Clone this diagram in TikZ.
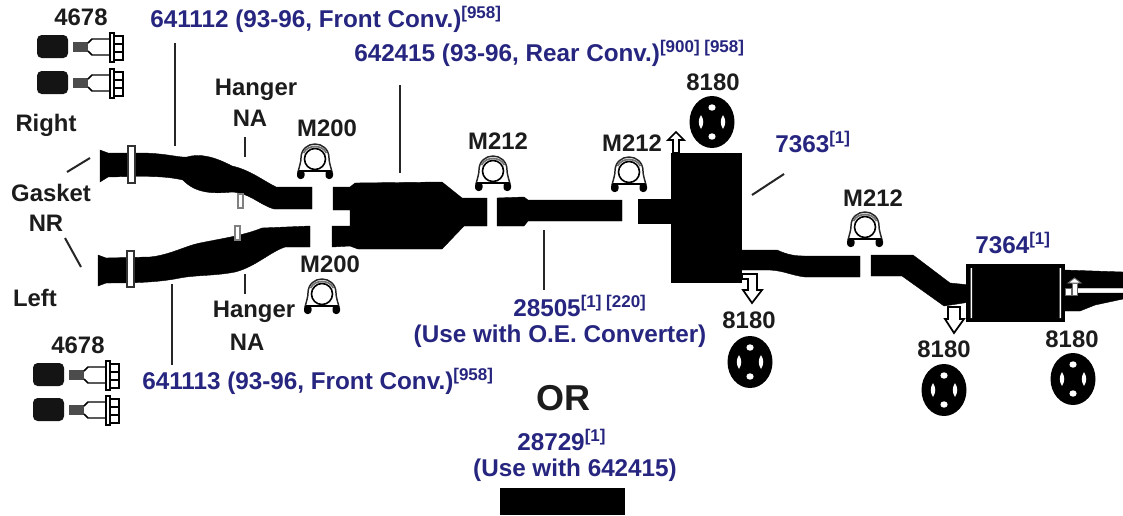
\documentclass[tikz,border=0pt]{standalone}
\usepackage{fontspec}
\setmainfont{Liberation Sans}
\definecolor{partblue}{HTML}{26257F}
\definecolor{inkblack}{HTML}{1C1C1C}
\tikzset{
  x=0.75pt,y=-0.75pt,
  lab/.style={font=\fontsize{17.9}{20}\selectfont\bfseries,text=inkblack,inner sep=0pt},
  part/.style={font=\fontsize{18.2}{20}\selectfont\bfseries,text=partblue,inner sep=0pt},
  leader/.style={draw=black!85,line width=1.5pt},
  solid part/.style={fill=black,draw=black,line width=0.3pt},
  whitearrow/.style={fill=white,draw=black,line width=1.3pt,line join=miter},
  strap/.style={fill=white,draw=black!80,line width=0.9pt},
  clamp/.pic={
    \draw[black!85,line width=1.1pt,fill=white] (-17,28) .. controls (-15.5,22) and (-14,18) .. (-14,14) .. controls (-14,5) and (-7,0) .. (0,0) .. controls (7,0) and (14,5) .. (14,14) .. controls (14,18) and (15.5,22) .. (17,28);
    \draw[black!55,line width=1.3pt] (-11.5,9) .. controls (-9,4) and (-4,2.5) .. (0,2.5) .. controls (4,2.5) and (9,4) .. (11.5,9);
    \draw[black,line width=1.2pt] (0,15) circle (10.5);
    \draw[black,line width=2pt] (-16,27) -- (16,27);
    \fill[black,rounded corners=2.5pt] (-18,26) rectangle (-10.5,35);
    \fill[black,rounded corners=2.5pt] (10.5,26) rectangle (18,35);
  },
  isolator/.pic={
    \fill[black] (0,0) ellipse (22.5 and 26);
    \fill[white] (0,-14.5) ellipse (3.6 and 3.2) (0,14.5) ellipse (3.6 and 3.2);
    \fill[white] (-11,-7) .. controls (-14,-2) and (-14,2) .. (-11,7) .. controls (-8,2) and (-8,-2) .. cycle;
    \fill[white] (11,-7) .. controls (14,-2) and (14,2) .. (11,7) .. controls (8,2) and (8,-2) .. cycle;
  },
  boltset/.pic={
    \fill[black!92,rounded corners=3.5pt] (0,0) rectangle (31,23);
    \fill[black!70] (36,7) rectangle (51,17);
    \draw[black,line width=1.1pt,fill=white] (51,8) -- (55,4) -- (73,4) -- (73,20) -- (55,20) -- (51,16);
    \draw[black,line width=1.1pt,fill=white] (73,-2) rectangle (77,27);
    \draw[black,line width=1.1pt,fill=white] (77,1) rectangle (86,25);
    \draw[black,line width=1.1pt] (77,9) -- (86,9) (77,17) -- (86,17);
  }
}
\begin{document}
\begin{tikzpicture}
\useasboundingbox (0,0) rectangle (1123,515);
\fill[white] (0,0) rectangle (1123,515);
% right front pipe
\path[solid part] (100,150) -- (108,153) -- (140,153) .. controls (165,153) and (180,158) .. (187,157)
  .. controls (200,153) and (215,157) .. (232,166) .. controls (250,170) and (262,180) .. (276,187)
  -- (312,187) -- (312,209) -- (274,209) .. controls (258,204) and (250,193) .. (232,192)
  .. controls (212,194) and (195,193) .. (183,180) .. controls (165,176) and (150,176) .. (108,177) -- (100,182) -- cycle;
\draw[strap] (128,146) rectangle (135,183);
\draw[strap,draw=black!50] (238,194) rectangle (243,208);
% left front pipe
\path[solid part] (98,255) -- (106,258) -- (150,257) .. controls (170,255) and (185,246) .. (200,243)
  .. controls (225,238) and (245,235) .. (262,228) -- (310,226) -- (310,247) -- (285,247)
  .. controls (270,252) and (255,267) .. (235,272) .. controls (215,276) and (195,275) .. (180,278)
  .. controls (160,282) and (140,283) .. (106,283) -- (98,286) -- cycle;
\draw[strap] (127,251) rectangle (134,287);
\draw[strap,draw=black!50] (235,226) rectangle (240,240);
% converter
\path[solid part] (333,187) -- (350,187) -- (355,183) -- (442,182) -- (462,198) -- (487,198) -- (487,226)
  -- (464,226) -- (442,249) -- (358,249) -- (350,246) -- (332,247) -- (332,226) -- (350,226) -- (350,210) -- (333,210) -- cycle;
% intermediate pipe
\path[solid part] (497,198) -- (524,197) -- (528,200) -- (622,200) -- (622,221) -- (528,221) -- (524,226) -- (497,226) -- cycle;
\path[solid part] (638,199) -- (672,199) -- (672,223) -- (638,223) -- cycle;
% muffler 7363 and tail
\path[solid part] (671,153) rectangle (741,282);
\path[solid part] (740,250) -- (777,250) .. controls (788,255) and (795,256) .. (805,256) -- (860,256) -- (860,277)
  -- (805,277) .. controls (790,275) and (785,271) .. (770,270) -- (740,270) -- cycle;
\path[solid part] (871,255) -- (913,255) -- (950,283) -- (970,285) -- (970,302) -- (944,306) -- (902,276) -- (871,276) -- cycle;
% muffler 7364 and tail pipes
\path[solid part] (1064,270) -- (1123,272) -- (1123,288) -- (1064,288) -- cycle;
\path[solid part] (1064,293) -- (1123,293) -- (1123,299) -- (1095,305) -- (1080,311) -- (1064,311) -- cycle;
\path[solid part] (966,264) rectangle (1064,321);
\fill[white] (970.5,268) rectangle (972,318) (1059.5,268) rectangle (1061,318);
\draw[fill=white,draw=black!60,line width=0.7pt] (1065,288) rectangle (1071,295);
\draw[fill=white,draw=black!60,line width=0.7pt] (1072,283) rectangle (1077,295);
\draw[fill=white,draw=black!60,line width=0.7pt] (1068,283) -- (1074.5,278) -- (1081,283) -- cycle;
% hanger arrows
\path[whitearrow] (673,153) -- (673,140) -- (668,140) -- (676,132) -- (684,140) -- (679,140) -- (679,153) -- cycle;
\path[whitearrow] (742,274) -- (757,274) -- (757,290) -- (762,290) -- (752,303) -- (743,290) -- (748,290) -- (748,279) -- (742,279) -- cycle;
\path[whitearrow] (948,307) -- (960,307) -- (960,319) -- (964,319) -- (954,333) -- (945,319) -- (948,319) -- cycle;
% clamps
\pic at (315,144) {clamp};
\pic at (322,279) {clamp};
\pic at (493,156) {clamp};
\pic at (629,157) {clamp};
\pic at (865,212) {clamp};
% isolators
\pic at (712,122) {isolator};
\pic at (750,362) {isolator};
\pic at (944,390) {isolator};
\pic at (1073,379) {isolator};
% bolts
\pic at (37,35) {boltset};
\pic at (37,71) {boltset};
\pic at (33,363) {boltset};
\pic at (33,398) {boltset};
% leaders
\draw[leader] (175,43) -- (175,146);
\draw[leader] (245,137) -- (245,157);
\draw[leader] (67,172) -- (90,158);
\draw[leader] (65,238) -- (81,267);
\draw[leader] (172,284) -- (172,365);
\draw[leader] (245,274) -- (245,294);
\draw[leader] (400,85) -- (400,173);
\draw[leader] (544,230) -- (544,290);
\draw[leader] (752,195) -- (784,174);
% black rectangle
\path[solid part] (500,488) rectangle (624,514);
% labels
\node[lab] (n1) at (81,17) {4678};
\node[lab] (n2) at (78,345) {4678};
\node[lab] (n3) at (256,90) {Hanger};
\node[lab] (n4) at (250,118) {NA};
\node[lab] (n5) at (254,312) {Hanger};
\node[lab] (n6) at (247,342) {NA};
\node[lab] (n7) at (327,128) {M200};
\node[lab] (n8) at (330,264) {M200};
\node[lab] (n9) at (46,125) {Right};
\node[lab] (n10) at (51,193) {Gasket};
\node[lab] (n11) at (46,223) {NR};
\node[lab] (n12) at (35,298) {Left};
\node[lab] (n13) at (498,141) {M212};
\node[lab] (n14) at (632,143) {M212};
\node[lab] (n15) at (873,198) {M212};
\node[lab] (n16) at (713,82) {8180};
\node[lab] (n17) at (749,320) {8180};
\node[lab] (n18) at (944,349) {8180};
\node[lab] (n19) at (1072,339) {8180};
\node[part,anchor=base west] (p1) at (150,27) {641112 (93-96, Front Conv.)\textsuperscript{[958]}};
\node[part,anchor=base west] (p2) at (354,61) {642415 (93-96, Rear Conv.)\textsuperscript{[900] [958]}};
\node[part,anchor=base west] (p3) at (142,389) {641113 (93-96, Front Conv.)\textsuperscript{[958]}};
\node[part,anchor=base west] (p4) at (775,152) {7363\textsuperscript{[1]}};
\node[part,anchor=base west] (p5) at (975,253) {7364\textsuperscript{[1]}};
\node[part,anchor=base west] (p6) at (513,316) {28505\textsuperscript{[1] [220]}};
\node[part] (p7) at (560,336) {(Use with O.E. Converter)};
\node[part,anchor=base west] (p8) at (517,450) {28729\textsuperscript{[1]}};
\node[part] (p9) at (575,470) {(Use with 642415)};
\node[lab,font=\fontsize{27}{30}\selectfont\bfseries] (or) at (563,398) {OR};
\end{tikzpicture}
\end{document}
